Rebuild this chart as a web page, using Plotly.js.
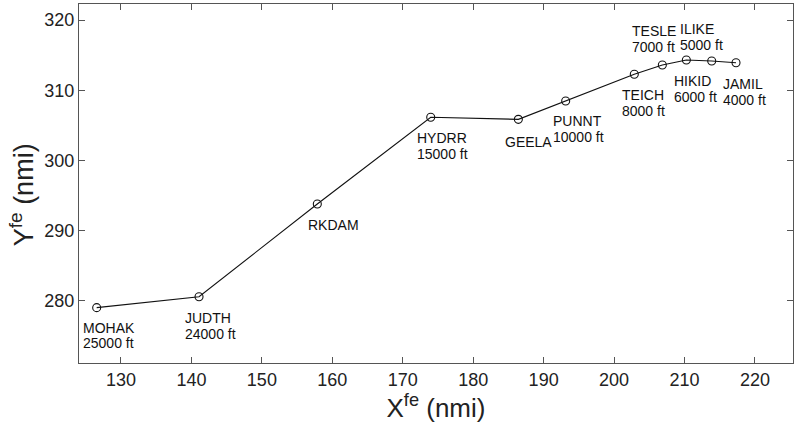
<!DOCTYPE html>
<html>
<head>
<meta charset="utf-8">
<script src="https://cdn.plot.ly/plotly-3.0.1.min.js"></script>
<style>html,body{margin:0;padding:0;background:#fff;}#chart{width:800px;height:426px;}</style>
</head>
<body>
<div id="chart"></div>
<script>
// Data
const xVals = [126.55, 141.08, 157.87, 173.97, 186.41, 193.13, 202.87, 206.85, 210.26, 213.86, 217.31];
const yVals = [279.05, 280.60, 293.80, 306.15, 305.86, 308.47, 312.27, 313.59, 314.31, 314.16, 313.92];
const names = ['MOHAK', 'JUDTH', 'RKDAM', 'HYDRR', 'GEELA', 'PUNNT', 'TEICH', 'TESLE', 'ILIKE', 'HIKID', 'JAMIL'];
const alts = ['25000 ft', '24000 ft', '', '15000 ft', '', '10000 ft', '8000 ft', '7000 ft', '5000 ft', '6000 ft', '4000 ft'];
const xTicks = [130, 140, 150, 160, 170, 180, 190, 200, 210, 220];
const yTicks = [280, 290, 300, 310, 320];

// Label placement (pixels relative to each point): left edge of text, centre of first line (down positive)
const labelDx = [-14, -14, -9, -13.7, -13, -13, -12.6, -30.6, -6, -38, -12.7];
const labelDy = [20, 21, 21.3, 20.6, 22.4, 20.1, 20.6, -33.6, -31.1, 20.4, 21.7];
const lineGap = 15.8;

const FONT = 'Liberation Sans, Arial, Helvetica, sans-serif';

const annotations = [];
names.forEach((n, i) => {
  const lines = [n, alts[i]];
  lines.forEach((t, k) => {
    if (!t) return;
    annotations.push({
      x: xVals[i], y: yVals[i], xref: 'x', yref: 'y',
      text: t, showarrow: false, borderpad: 0,
      xanchor: 'left', yanchor: 'middle',
      xshift: labelDx[i] - 1,
      yshift: -(labelDy[i] + k * lineGap),
      font: {family: FONT, size: 14, color: '#111'}
    });
  });
});

// Y axis title drawn as rotated annotation
annotations.push({
  xref: 'paper', yref: 'paper', x: -0.08, y: 0.47,
  xanchor: 'center', yanchor: 'middle', textangle: -90,
  text: 'Y<sup>fe</sup> (nmi)', showarrow: false,
  font: {family: FONT, size: 27, color: '#222'}
});

const trace = {
  x: xVals, y: yVals, type: 'scatter', mode: 'lines+markers',
  line: {color: '#111', width: 1.1},
  marker: {symbol: 'circle-open', size: 8, color: '#111', line: {width: 1.1, color: '#111'}},
  hoverinfo: 'skip'
};

const axisCommon = {
  showline: true, linecolor: '#555', linewidth: 1,
  mirror: 'ticks', ticks: 'inside', ticklen: 6, tickcolor: '#555', tickwidth: 1,
  showgrid: false, zeroline: false,
  tickfont: {family: FONT, size: 18, color: '#222'}
};

const layout = {
  width: 800, height: 426,
  margin: {l: 79, r: 7, t: 4, b: 63},
  paper_bgcolor: '#fff', plot_bgcolor: '#fff',
  showlegend: false,
  xaxis: Object.assign({}, axisCommon, {
    range: [124.04, 225.4], tickmode: 'array', tickvals: xTicks, ticktext: xTicks.map(String),
    title: {text: 'X<sup>fe</sup> (nmi)', font: {family: FONT, size: 26, color: '#222'}, standoff: 2}
  }),
  yaxis: Object.assign({}, axisCommon, {
    range: [271.17, 322.28], tickmode: 'array', tickvals: yTicks, ticktext: yTicks.map(String)
  }),
  annotations: annotations
};

Plotly.newPlot('chart', [trace], layout, {displayModeBar: false, staticPlot: true});
</script>
</body>
</html>
